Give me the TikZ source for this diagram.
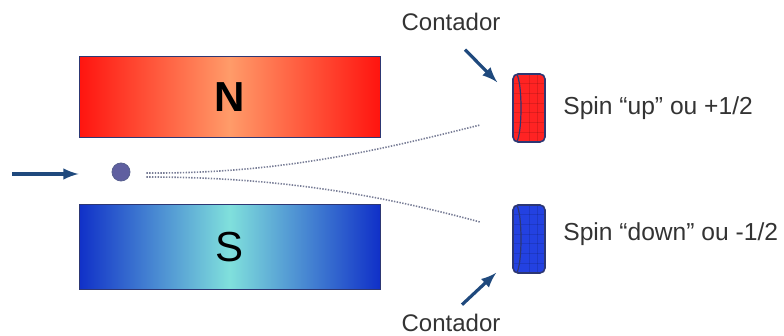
\documentclass[tikz,border=0pt]{standalone}
\usepackage{fontspec}
\setmainfont{Liberation Sans}
\usetikzlibrary{positioning}
\definecolor{navyarrow}{RGB}{31,73,125}
\definecolor{rimblue}{RGB}{45,55,115}
\definecolor{northedge}{RGB}{255,20,15}
\definecolor{northmid}{RGB}{255,155,105}
\definecolor{southedge}{RGB}{16,48,200}
\definecolor{southmid}{RGB}{128,224,220}
\definecolor{atomfill}{RGB}{95,95,160}
\definecolor{beamgray}{RGB}{120,125,150}
\definecolor{upred}{RGB}{255,35,35}
\definecolor{downblue}{RGB}{35,65,225}

\tikzset{
  magnet/.style={draw=rimblue, line width=0.5pt, minimum width=150.5pt, inner sep=0pt,
    font=\fontsize{21}{24}\selectfont},
  counter/.style={draw=rimblue, line width=0.8pt, rounded corners=2.5pt,
    minimum width=16pt, minimum height=34pt, inner sep=0pt,
    path picture={
      \foreach \k in {1,...,6}
        \draw[black, opacity=0.12, line width=0.5pt]
          ([yshift=\k*4.857pt]path picture bounding box.south west) --
          ([yshift=\k*4.857pt]path picture bounding box.south east);
      \foreach \k in {1,2}
        \draw[black, opacity=0.12, line width=0.5pt]
          ([xshift=4.4pt+\k*3.9pt]path picture bounding box.south west) --
          ([xshift=4.4pt+\k*3.9pt]path picture bounding box.north west);
      \draw[rimblue, line width=0.6pt]
        ([xshift=1.2pt]path picture bounding box.west) ellipse (2.8pt and 17.5pt);
    }},
  pointer/.style={-latex, navyarrow, line width=1.6pt},
  beam/.style={beamgray, line width=0.8pt, dash pattern=on 0.7pt off 0.7pt},
  spintext/.style={font=\fontsize{12.3}{14}\selectfont, inner sep=0pt, text=black!80},
  countertext/.style={font=\fontsize{12}{14}\selectfont, inner sep=0pt, text=black!80}
}

\begin{document}
\begin{tikzpicture}[x=0.5pt, y=-0.5pt]
    \useasboundingbox (0,0) rectangle (784,336);

    % the two poles
    \node[magnet, minimum height=40.5pt, left color=northedge, right color=northedge,
      middle color=northmid] (north) at (229.5,97.5) {\bfseries N};
    \node[magnet, minimum height=42.5pt, left color=southedge, right color=southedge,
      middle color=southmid] (south) at (229.5,247.5) {S};

    % incoming atom
    \coordinate (src) at (12,174);
    \draw[pointer] (src) -- (src -| north.west);
    \node[circle, draw=rimblue!80, fill=atomfill, minimum size=9pt, inner sep=0pt,
      line width=0.4pt] (atom) at (121,172) {};

    % detectors
    \node[counter, fill=upred] (cup) at (529,108) {};
    \node[counter, fill=downblue] (cdown) at (529,239) {};

    % split beam
    \coordinate (upend) at (480,125);
    \coordinate (downend) at (480,222);
    \draw[beam] ([xshift=8pt,yshift=-0.5pt]atom.east) .. controls (280,174) and (380,150) .. (upend);
    \draw[beam] ([xshift=8pt,yshift=-2.5pt]atom.east) .. controls (280,177) and (380,195) .. (downend);

    % labels
    \node[spintext, anchor=base west] (lup) at (563,115) {Spin “up” ou +1/2};
    \node[spintext, anchor=base west] (ldown) at (563,241) {Spin “down” ou -1/2};
    \node[countertext, anchor=base] (ctop) at (451,31) {Contador};
    \node[countertext, anchor=base] (cbot) at (451,332) {Contador};
    \draw[pointer] ([xshift=7pt,yshift=-9pt]ctop.south) -- ([xshift=-7.5pt,yshift=-4.5pt]cup.north west);
    \draw[pointer] ([xshift=5.5pt,yshift=4.75pt]cbot.north) -- ([xshift=-8pt,yshift=0.5pt]cdown.south west);
\end{tikzpicture}
\end{document}
